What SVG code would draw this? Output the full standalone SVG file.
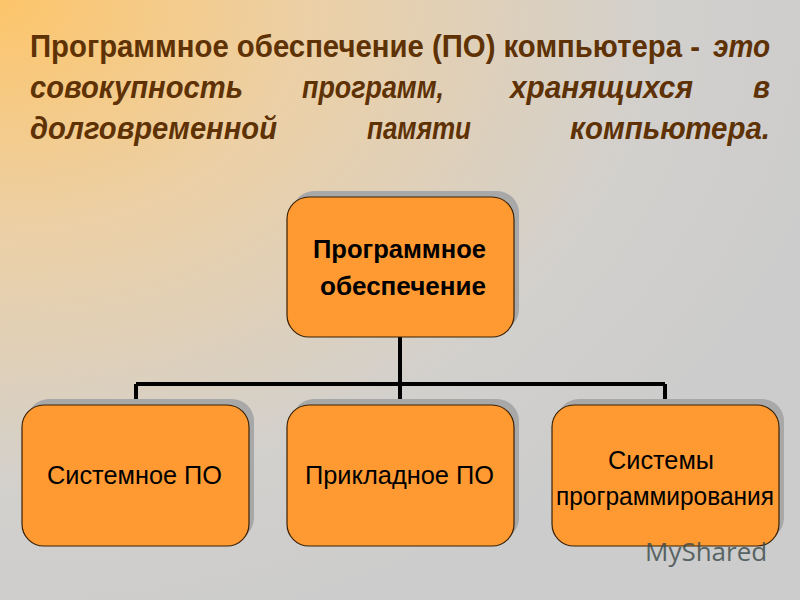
<svg xmlns="http://www.w3.org/2000/svg" width="800" height="600" viewBox="0 0 800 600">
<defs>
<radialGradient id="bg" cx="0" cy="0" r="1.1" gradientUnits="objectBoundingBox">
<stop offset="0" stop-color="#fdc56a"/>
<stop offset="0.35" stop-color="#ecd0a6"/>
<stop offset="0.75" stop-color="#d2d0cd"/>
<stop offset="1" stop-color="#cccccc"/>
</radialGradient>
<style>
.t{font-family:"Liberation Sans",Arial,sans-serif;font-weight:bold;font-size:31px;fill:#5e3205}
.i{font-style:italic}
.box{fill:#ff9a33;stroke:#3a2000;stroke-width:1.2}
.sh{fill:#a8a8a8}
.l{font-family:"Liberation Sans",Arial,sans-serif;font-size:25px;fill:#000}
.c{stroke:#000;stroke-width:4;fill:none}
</style>
</defs>
<rect width="800" height="600" fill="url(#bg)"/>
<g id="title">
<text class="t" x="30" y="57" font-size="29" textLength="670" lengthAdjust="spacingAndGlyphs">Программное обеспечение (ПО) компьютера -</text>
<text class="t i" x="713" y="57" textLength="57" lengthAdjust="spacingAndGlyphs">это</text>
<text class="t i" x="30" y="98" textLength="213" lengthAdjust="spacingAndGlyphs">совокупность</text>
<text class="t i" x="302" y="98" textLength="142" lengthAdjust="spacingAndGlyphs">программ,</text>
<text class="t i" x="510" y="98" textLength="183" lengthAdjust="spacingAndGlyphs">хранящихся</text>
<text class="t i" x="753" y="98" textLength="17" lengthAdjust="spacingAndGlyphs">в</text>
<text class="t i" x="30" y="139" textLength="247" lengthAdjust="spacingAndGlyphs">долговременной</text>
<text class="t i" x="367" y="139" textLength="104" lengthAdjust="spacingAndGlyphs">памяти</text>
<text class="t i" x="570" y="139" textLength="200" lengthAdjust="spacingAndGlyphs">компьютера.</text>
</g>
<g id="connectors">
<path class="c" d="M400 337V384M136 384H665M136 384V405M400 384V405M665 384V405"/>
</g>
<g id="n0">
<rect class="sh" x="292" y="191" width="227" height="140" rx="22"/>
<rect class="box" x="287" y="197" width="227" height="140" rx="22"/>
<text class="l" font-weight="bold" x="313" y="258" textLength="173" lengthAdjust="spacingAndGlyphs">Программное</text>
<text class="l" font-weight="bold" x="320" y="295" textLength="166" lengthAdjust="spacingAndGlyphs">обеспечение</text>
</g>
<g id="n1">
<rect class="sh" x="27" y="399" width="227" height="141" rx="22"/>
<rect class="box" x="22" y="405" width="227" height="141" rx="22"/>
<text class="l" x="47" y="484" textLength="175" lengthAdjust="spacingAndGlyphs">Системное ПО</text>
</g>
<g id="n2">
<rect class="sh" x="292" y="399" width="227" height="141" rx="22"/>
<rect class="box" x="287" y="405" width="227" height="141" rx="22"/>
<text class="l" x="305" y="484" textLength="189" lengthAdjust="spacingAndGlyphs">Прикладное ПО</text>
</g>
<g id="n3">
<rect class="sh" x="557" y="399" width="227" height="141" rx="22"/>
<rect class="box" x="552" y="405" width="227" height="141" rx="22"/>
<text class="l" x="608" y="469" textLength="106" lengthAdjust="spacingAndGlyphs">Системы</text>
<text class="l" x="556" y="505" textLength="218" lengthAdjust="spacingAndGlyphs">программирования</text>
</g>
<text x="645" y="561" font-family="'Open Sans',sans-serif" font-size="26" fill="#3a4a48" opacity="0.8">MyShared</text>
</svg>
